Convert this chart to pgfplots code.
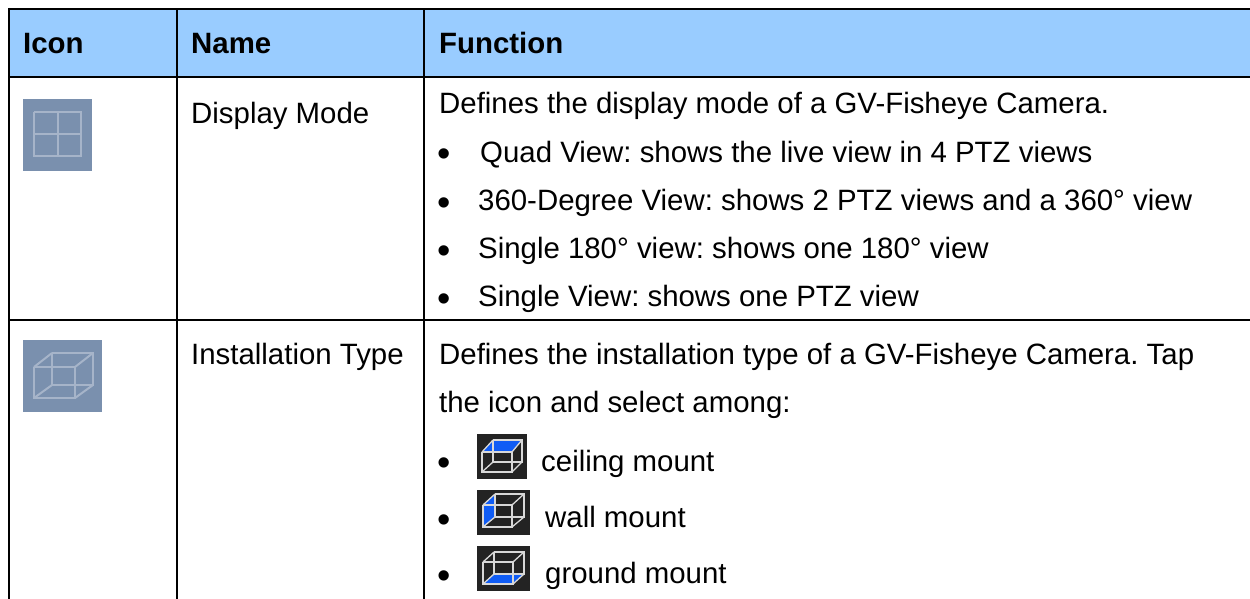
\documentclass[border=0pt]{standalone}
\usepackage{pgfplots}
\usepackage{fontspec}
\setmainfont{Liberation Sans}
\pgfplotsset{compat=1.18}
\frenchspacing
\definecolor{hdr}{HTML}{99CCFF}
\definecolor{ic}{HTML}{7A90AE}
\definecolor{icl}{HTML}{A6B4C9}
\definecolor{dk}{HTML}{232323}
\definecolor{bl}{HTML}{0F5CF5}
\definecolor{wl}{HTML}{D8D8D8}
\newcommand\T[3]{\node[anchor=base west,inner sep=0pt,font=\fontsize{29.4}{32}\selectfont] at (axis cs:#1,#2) {#3};}
\newcommand\B[3]{\node[anchor=base west,inner sep=0pt,font=\fontsize{29.4}{32}\selectfont\bfseries] at (axis cs:#1,#2) {#3};}
\newcommand\Bu[1]{\node[anchor=base west,inner sep=0pt,font=\fontsize{38}{40}\selectfont] at (axis cs:437.3,#1) {•};}
\begin{document}
\begin{tikzpicture}
\begin{axis}[scale only axis,width=1250pt,height=599pt,xmin=0,xmax=1250,ymin=0,ymax=599,y dir=reverse,hide axis,clip=true]
% header
\addplot[draw=none,fill=hdr] coordinates {(9,9)(1250,9)(1250,77)(9,77)} -- cycle;
% rules
\addplot[black,line width=2pt] coordinates {(9,9)(1250,9)};
\addplot[black,line width=2pt] coordinates {(9,77)(1250,77)};
\addplot[black,line width=2pt] coordinates {(9,320)(1250,320)};
\addplot[black,line width=2pt] coordinates {(9,8)(9,599)};
\addplot[black,line width=2pt] coordinates {(177,9)(177,599)};
\addplot[black,line width=2pt] coordinates {(424,9)(424,599)};
% icon 1
\addplot[draw=none,fill=ic] coordinates {(23,99)(92,99)(92,171)(23,171)} -- cycle;
\addplot[icl,line width=2.2pt] coordinates {(34,112)(81,112)(81,156)(34,156)(34,112)};
\addplot[icl,line width=2.2pt] coordinates {(58,112)(58,156)};
\addplot[icl,line width=2.2pt] coordinates {(34,134)(81,134)};
% icon 2
\addplot[draw=none,fill=ic] coordinates {(23,340)(102,340)(102,412)(23,412)} -- cycle;
\addplot[icl,line width=2pt] coordinates {(34,367)(75,367)(75,398)(34,398)(34,367)};
\addplot[icl,line width=2pt] coordinates {(52,353)(93,353)(93,385)(52,385)(52,353)};
\addplot[icl,line width=2pt] coordinates {(34,367)(52,353)};
\addplot[icl,line width=2pt] coordinates {(75,367)(93,353)};
\addplot[icl,line width=2pt] coordinates {(75,398)(93,385)};
\addplot[icl,line width=2pt] coordinates {(34,398)(52,385)};
% small icon a
\addplot[draw=none,fill=dk] coordinates {(477,434)(527,434)(527,479)(477,479)} -- cycle;
\addplot[draw=none,fill=bl] coordinates {(482,452)(512,452)(522,440)(493,440)} -- cycle;
\addplot[wl,line width=1.3pt] coordinates {(482,452)(512,452)(512,472)(482,472)(482,452)};
\addplot[wl,line width=1.3pt] coordinates {(493,440)(522,440)(522,462)(493,462)(493,440)};
\addplot[wl,line width=1.3pt] coordinates {(482,452)(493,440)};
\addplot[wl,line width=1.3pt] coordinates {(512,452)(522,440)};
\addplot[wl,line width=1.3pt] coordinates {(512,472)(522,462)};
\addplot[wl,line width=1.3pt] coordinates {(482,472)(493,462)};
% small icon b
\addplot[draw=none,fill=dk] coordinates {(477,490)(530,490)(530,535)(477,535)} -- cycle;
\addplot[draw=none,fill=bl] coordinates {(483,505)(495,494)(495,517)(483,527)} -- cycle;
\addplot[wl,line width=1.3pt] coordinates {(483,505)(512,505)(512,527)(483,527)(483,505)};
\addplot[wl,line width=1.3pt] coordinates {(495,494)(524,494)(524,517)(495,517)(495,494)};
\addplot[wl,line width=1.3pt] coordinates {(483,505)(495,494)};
\addplot[wl,line width=1.3pt] coordinates {(512,505)(524,494)};
\addplot[wl,line width=1.3pt] coordinates {(512,527)(524,517)};
\addplot[wl,line width=1.3pt] coordinates {(483,527)(495,517)};
% small icon c
\addplot[draw=none,fill=dk] coordinates {(477,546)(530,546)(530,591)(477,591)} -- cycle;
\addplot[draw=none,fill=bl] coordinates {(483,584)(513,584)(524,574)(494,574)} -- cycle;
\addplot[wl,line width=1.3pt] coordinates {(483,562)(513,562)(513,584)(483,584)(483,562)};
\addplot[wl,line width=1.3pt] coordinates {(494,552)(524,552)(524,574)(494,574)(494,552)};
\addplot[wl,line width=1.3pt] coordinates {(483,562)(494,552)};
\addplot[wl,line width=1.3pt] coordinates {(513,562)(524,552)};
\addplot[wl,line width=1.3pt] coordinates {(513,584)(524,574)};
\addplot[wl,line width=1.3pt] coordinates {(483,584)(494,574)};
% text
\B{23}{53.5}{Icon}
\B{191}{53.5}{Name}
\B{439}{53.5}{Function}
\T{191}{124}{Display Mode}
\T{439}{114}{Defines the display mode of a GV-Fisheye Camera.}
\Bu{167}
\T{480}{163}{Quad View: shows the live view in 4 PTZ views}
\Bu{215}
\T{478}{210}{360-Degree View: shows 2 PTZ views and a 360° view}
\Bu{263}
\T{478}{258}{Single 180° view: shows one 180° view}
\Bu{311}
\T{478}{306}{Single View: shows one PTZ view}
\T{191}{364}{Installation Type}
\T{439}{364}{Defines the installation type of a GV-Fisheye Camera. Tap}
\T{439}{412}{the icon and select among:}
\Bu{475}
\T{541}{471}{ceiling mount}
\Bu{532}
\T{545}{527.5}{wall mount}
\Bu{588}
\T{545}{583.5}{ground mount}
\end{axis}
\pgfresetboundingbox
\useasboundingbox (0,0) rectangle (1250pt,599pt);
\end{tikzpicture}
\end{document}
